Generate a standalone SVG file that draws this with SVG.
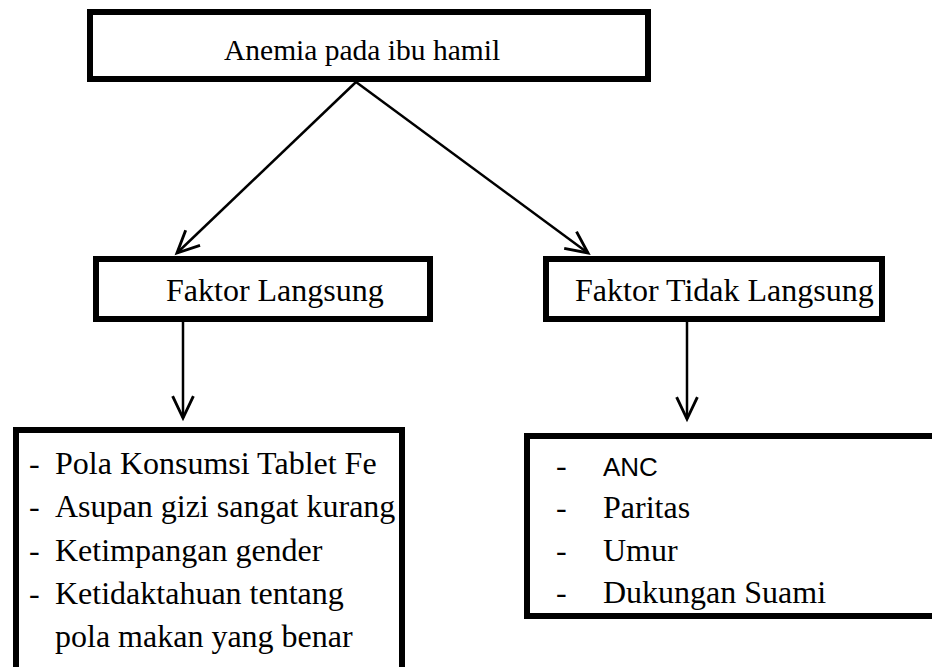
<svg xmlns="http://www.w3.org/2000/svg" width="932" height="667" viewBox="0 0 932 667">
<defs>
<style>
.box{fill:#fff;stroke:#000;stroke-width:6}
.t{font-family:'Liberation Serif','Times New Roman','DejaVu Serif',serif;font-size:32px;fill:#000}
.s{font-family:'Liberation Sans',Arial,'DejaVu Sans',sans-serif;font-size:26px;fill:#000}
.c{fill:none;stroke:#000;stroke-width:2.5}
</style>
<marker id="ah" markerUnits="userSpaceOnUse" markerWidth="30" markerHeight="30" viewBox="-22 -12 26 24" refX="0" refY="0" orient="auto">
<path d="M-19,-9 L0,0 L-19,9" fill="none" stroke="#000" stroke-width="2.5"/>
</marker>
</defs>
<rect width="932" height="667" fill="#fff"/>
<g id="connectors">
<line class="c" x1="356" y1="82" x2="177" y2="253" marker-end="url(#ah)"/>
<line class="c" x1="356" y1="82" x2="588" y2="253" marker-end="url(#ah)"/>
<line class="c" x1="183" y1="315" x2="183" y2="418" marker-end="url(#ah)"/>
<line class="c" x1="687" y1="320" x2="687" y2="419" marker-end="url(#ah)"/>
</g>
<g id="node-anemia">
<rect class="box" x="90" y="12" width="558" height="67"/>
<text class="t" x="224" y="60" style="font-size:29.5px">Anemia pada ibu hamil</text>
</g>
<g id="node-langsung">
<rect class="box" x="96" y="259" width="334" height="60"/>
<text class="t" x="166" y="301">Faktor Langsung</text>
</g>
<g id="node-tidak-langsung">
<rect class="box" x="546" y="259" width="336" height="60"/>
<text class="t" x="575" y="301">Faktor Tidak Langsung</text>
</g>
<g id="node-list-langsung">
<rect class="box" x="16" y="430" width="386" height="260"/>
<text class="t" x="29" y="474">-</text><text class="t" x="55" y="474">Pola Konsumsi Tablet Fe</text>
<text class="t" x="29" y="517">-</text><text class="t" x="55" y="517">Asupan gizi sangat kurang</text>
<text class="t" x="29" y="561">-</text><text class="t" x="55" y="561">Ketimpangan gender</text>
<text class="t" x="29" y="604">-</text><text class="t" x="55" y="604">Ketidaktahuan tentang</text>
<text class="t" x="55" y="647">pola makan yang benar</text>
</g>
<g id="node-list-tidak-langsung">
<rect class="box" x="527" y="436" width="420" height="180"/>
<text class="t" x="556" y="476">-</text><text class="s" x="603" y="476">ANC</text>
<text class="t" x="556" y="518">-</text><text class="t" x="603" y="518">Paritas</text>
<text class="t" x="556" y="561">-</text><text class="t" x="603" y="561">Umur</text>
<text class="t" x="556" y="603">-</text><text class="t" x="603" y="603">Dukungan Suami</text>
</g>
</svg>
